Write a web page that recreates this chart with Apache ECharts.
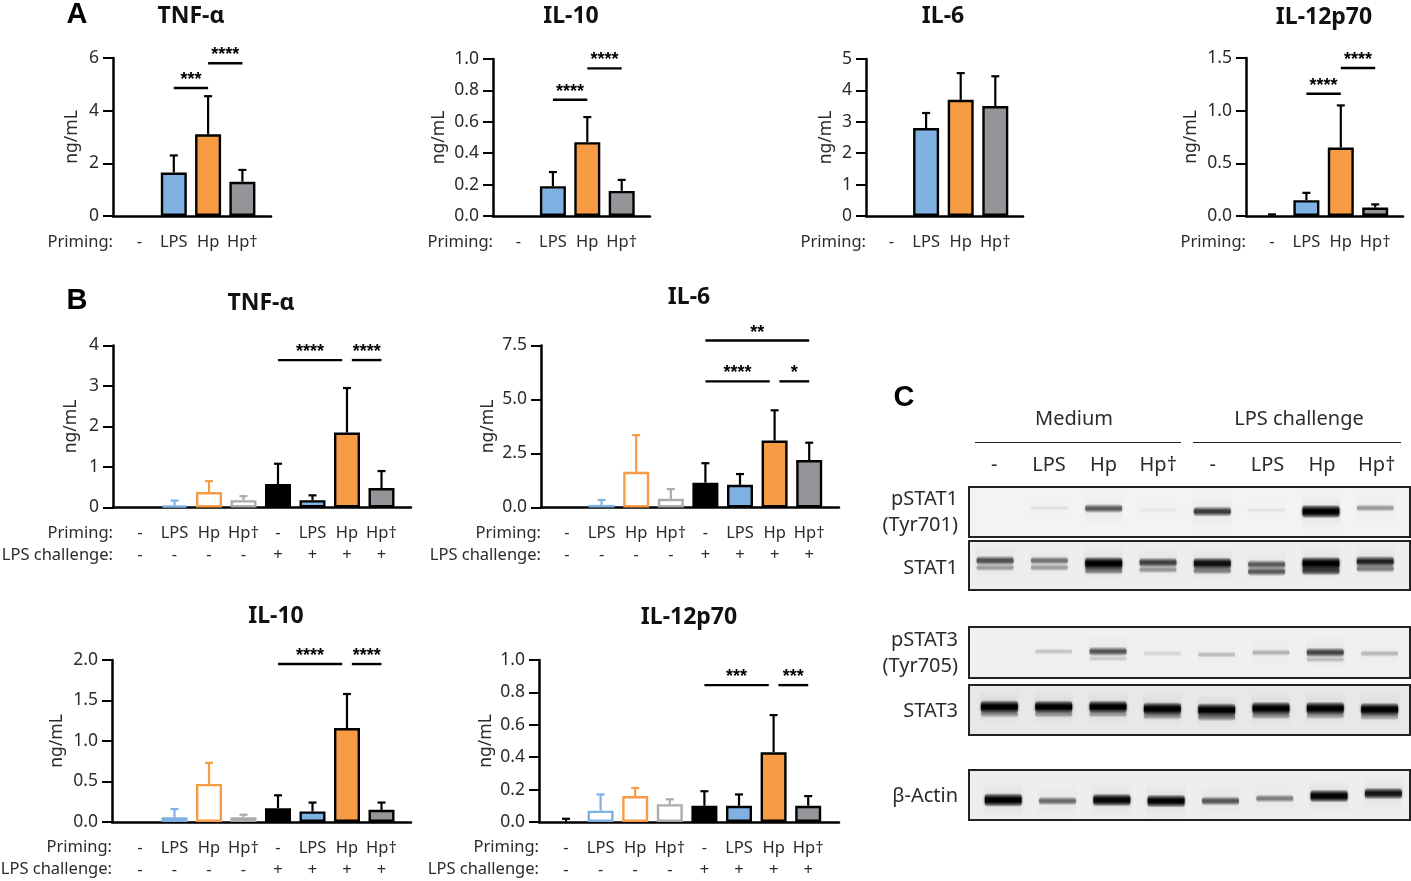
<!DOCTYPE html>
<html>
<head>
<meta charset="utf-8">
<script src="https://cdn.jsdelivr.net/npm/echarts@6/dist/echarts.min.js"></script>
<style>
html, body { margin: 0; padding: 0; background: #fff; }
#chart { width: 1411px; height: 881px; }
</style>
</head>
<body>
<div id="chart"></div>
<script>
var priming4 = ['-', 'LPS', 'Hp', 'Hp†'];
var priming8 = ['-', 'LPS', 'Hp', 'Hp†', '-', 'LPS', 'Hp', 'Hp†'];
var challenge8 = ['-', '-', '-', '-', '+', '+', '+', '+'];

// panel A: mean and top of the error bar
var aTnfMean = [0, 1.65, 3.1, 1.3];
var aTnfErr = [0, 2.3, 4.55, 1.75];
var aIl10Mean = [0, 0.19, 0.47, 0.16];
var aIl10Err = [0, 0.28, 0.63, 0.23];
var aIl6Mean = [0, 2.8, 3.7, 3.5];
var aIl6Err = [0, 3.28, 4.55, 4.45];
var aIl12Mean = [0, 0.15, 0.65, 0.08];
var aIl12Err = [0.015, 0.22, 1.05, 0.11];

// panel B
var bTnfMean = [0, 0.05, 0.38, 0.18, 0.58, 0.18, 1.85, 0.48];
var bTnfErr = [0, 0.17, 0.65, 0.28, 1.08, 0.3, 2.95, 0.9];
var bIl6Mean = [0, 0.12, 1.65, 0.4, 1.15, 1.05, 3.1, 2.2];
var bIl6Err = [0, 0.35, 3.35, 0.85, 2.05, 1.55, 4.5, 3.0];
var bIl10Mean = [0, 0.06, 0.47, 0.06, 0.17, 0.13, 1.16, 0.15];
var bIl10Err = [0, 0.16, 0.73, 0.09, 0.33, 0.24, 1.58, 0.24];
var bIl12Mean = [0, 0.07, 0.16, 0.11, 0.1, 0.1, 0.43, 0.1];
var bIl12Err = [0.02, 0.17, 0.21, 0.14, 0.19, 0.17, 0.66, 0.16];

// significance: from category, to category, height on the y axis, stars
var aTnfSig = [[1, 2, 4.86, '***'], [2, 3, 5.8, '****']];
var aIl10Sig = [[1, 2, 0.74, '****'], [2, 3, 0.94, '****']];
var aIl12Sig = [[1, 2, 1.16, '****'], [2, 3, 1.405, '****']];
var bTnfSig = [[4, 5.86, 3.64, '****'], [6.14, 7, 3.64, '****']];
var bIl6Sig = [[4, 5.86, 5.84, '****'], [6.14, 7, 5.84, '*'], [4, 7, 7.73, '**']];
var bIl10Sig = [[4, 5.86, 1.95, '****'], [6.14, 7, 1.95, '****']];
var bIl12Sig = [[4, 5.86, 0.845, '***'], [6.14, 7, 0.845, '***']];

// western blot: band strength 0-1 per lane, height of the band inside its box 0-1
var laneNames = ['-', 'LPS', 'Hp', 'Hp†', '-', 'LPS', 'Hp', 'Hp†'];
var pstat1Band = [0, 0.07, 0.5, 0.04, 0.62, 0.06, 1, 0.3];
var pstat1Y = [0.44, 0.42, 0.43, 0.46, 0.49, 0.46, 0.49, 0.42];
var pstat1Low = [0, 0, 0, 0, 0, 0, 0, 0];
var stat1Band = [0.55, 0.42, 1, 0.6, 0.85, 0.5, 1, 0.72];
var stat1Y = [0.4, 0.4, 0.46, 0.44, 0.46, 0.48, 0.46, 0.42];
var stat1Low = [0.28, 0.28, 0.4, 0.3, 0.38, 0.5, 0.6, 0.38];
var pstat3Band = [0, 0.15, 0.52, 0.1, 0.18, 0.22, 0.58, 0.2];
var pstat3Y = [0.5, 0.48, 0.48, 0.52, 0.54, 0.5, 0.5, 0.52];
var pstat3Low = [0, 0, 0.12, 0, 0, 0, 0.18, 0];
var stat3Band = [1, 0.95, 0.95, 1, 1, 1, 1, 1];
var stat3Y = [0.44, 0.44, 0.44, 0.48, 0.5, 0.47, 0.47, 0.49];
var stat3Low = [0.3, 0.3, 0.28, 0.3, 0.38, 0.32, 0.28, 0.28];
var actinBand = [1, 0.45, 0.92, 0.92, 0.52, 0.38, 0.92, 0.8];
var actinY = [0.6, 0.62, 0.6, 0.62, 0.62, 0.57, 0.52, 0.47];
var actinLow = [0, 0, 0, 0, 0, 0, 0, 0];

var blue = '#7fb2e3', orange = '#f79c45', grey = '#939598';
var openGrey = '#a9abae';
var fillsA = [ '#000', blue, orange, grey ];
var fillsB = [ '#fff', '#fff', '#fff', '#fff', '#000', blue, orange, grey ];
var edgesB = [ '#000', blue, orange, openGrey, '#000', '#000', '#000', '#000' ];
var edgesA = [ '#000', '#000', '#000', '#000' ];

var font = '"Noto Sans", sans-serif';
var ink = '#2b2b2b';

var charts = [
    { title: 'TNF-α', tx: 191, ty: 15, axisX: 113, right: 271, top: 58, y0: 216, c0: 139.5, step: 34.3, max: 6, interval: 2, dec: 0, gap: 31.5, mean: aTnfMean, err: aTnfErr, sig: aTnfSig },
    { title: 'IL-10', tx: 571, ty: 15, axisX: 493, right: 650, top: 59, y0: 216, c0: 518.5, step: 34.4, max: 1, interval: 0.2, dec: 1, gap: 44.5, mean: aIl10Mean, err: aIl10Err, sig: aIl10Sig },
    { title: 'IL-6', tx: 943, ty: 15, axisX: 866, right: 1023, top: 59, y0: 216, c0: 891.5, step: 34.6, max: 5, interval: 1, dec: 0, gap: 30.5, mean: aIl6Mean, err: aIl6Err, sig: [] },
    { title: 'IL-12p70', tx: 1324, ty: 16, axisX: 1246, right: 1403, top: 58, y0: 216, c0: 1272, step: 34.4, max: 1.5, interval: 0.5, dec: 1, gap: 45.5, mean: aIl12Mean, err: aIl12Err, sig: aIl12Sig },
    { title: 'TNF-α', tx: 261, ty: 302, axisX: 113, right: 411, top: 345.5, y0: 507.5, c0: 140, step: 34.5, max: 4, interval: 1, dec: 0, gap: 32.5, mean: bTnfMean, err: bTnfErr, sig: bTnfSig },
    { title: 'IL-6', tx: 689, ty: 296, axisX: 541, right: 839, top: 345.5, y0: 507.5, c0: 567, step: 34.6, max: 7.5, interval: 2.5, dec: 1, gap: 43.5, mean: bIl6Mean, err: bIl6Err, sig: bIl6Sig },
    { title: 'IL-10', tx: 276, ty: 615, axisX: 112, right: 411, top: 660, y0: 822, c0: 140, step: 34.5, max: 2, interval: 0.5, dec: 1, gap: 45.5, mean: bIl10Mean, err: bIl10Err, sig: bIl10Sig },
    { title: 'IL-12p70', tx: 689, ty: 616, axisX: 539, right: 839, top: 660, y0: 822, c0: 566, step: 34.6, max: 1, interval: 0.2, dec: 1, gap: 43.5, mean: bIl12Mean, err: bIl12Err, sig: bIl12Sig }
];

var blots = [
    { name: 'pSTAT1\n(Tyr701)', labelY: 512.5, top: 487, bottom: 537, bg: '#f3f3f3', shift: 0, band: pstat1Band, y: pstat1Y, low: pstat1Low },
    { name: 'STAT1', labelY: 568, top: 541, bottom: 590, bg: '#eeeeee', shift: 0, band: stat1Band, y: stat1Y, low: stat1Low },
    { name: 'pSTAT3\n(Tyr705)', labelY: 653, top: 627, bottom: 678, bg: '#f0f0f0', shift: 0.08, band: pstat3Band, y: pstat3Y, low: pstat3Low },
    { name: 'STAT3', labelY: 711.5, top: 685, bottom: 735, bg: '#e8e8e8', shift: 0.08, band: stat3Band, y: stat3Y, low: stat3Low },
    { name: 'β-Actin', labelY: 796.5, top: 770, bottom: 820, bg: '#eeeeee', shift: 0.15, band: actinBand, y: actinY, low: actinLow }
];

var grids = [], xAxes = [], yAxes = [], series = [], titles = [], graphics = [];

function rowHeader(text, x, y) {
    graphics.push({ type: 'text', style: { x: x, y: y, text: text, fill: ink, font: '16.5px ' + font, textAlign: 'right', textVerticalAlign: 'middle' } });
}

function addChart(c) {
    var two = c.mean.length == 8;
    var frame = grids.length;
    // frame grid holds the axis lines, data grid holds the bars
    grids.push({ left: c.axisX, top: c.top, width: c.right - c.axisX, height: c.y0 - c.top });
    xAxes.push({ gridIndex: frame, type: 'value', min: 0, max: 1, axisLine: { show: true, lineStyle: { color: '#000', width: 2.5 } }, axisTick: { show: false }, axisLabel: { show: false }, splitLine: { show: false } });
    yAxes.push({
        gridIndex: frame, type: 'value', min: 0, max: c.max, interval: c.interval,
        name: 'ng/mL', nameLocation: 'middle', nameGap: c.gap,
        nameTextStyle: { color: ink, fontFamily: font, fontSize: 17.5 },
        axisLine: { show: true, lineStyle: { color: '#000', width: 2.5 } },
        axisTick: { show: true, length: 10, lineStyle: { color: '#000', width: 2 } },
        axisLabel: { color: ink, fontFamily: font, fontSize: 17.5, margin: 14, formatter: function (v) { return v.toFixed(c.dec); } },
        splitLine: { show: false }
    });

    var di = grids.length;
    var labels = two ? priming8.map(function (p, i) { return p + '\n' + challenge8[i]; }) : priming4;
    grids.push({ left: c.c0 - c.step / 2, top: c.top, width: c.step * c.mean.length, height: c.y0 - c.top });
    xAxes.push({
        gridIndex: di, type: 'category', data: labels,
        axisLine: { show: false }, axisTick: { show: false },
        axisLabel: { color: ink, fontFamily: font, fontSize: 16.5, lineHeight: 22, margin: 15, interval: 0, hideOverlap: false }
    });
    yAxes.push({ gridIndex: di, type: 'value', min: 0, max: c.max, show: false, splitLine: { show: false } });

    var fills = two ? fillsB : fillsA;
    var edges = two ? edgesB : edgesA;
    series.push({
        type: 'bar', xAxisIndex: di, yAxisIndex: di, barWidth: 26, animation: false, silent: true,
        data: c.mean.map(function (v, i) {
            return { value: v, itemStyle: { color: fills[i], borderColor: edges[i], borderWidth: v == 0 ? 0 : 2.4 } };
        })
    });
    series.push({
        type: 'custom', xAxisIndex: di, yAxisIndex: di, animation: false, silent: true, z: 1,
        data: c.err.map(function (v, i) { return [i, v, c.mean[i]]; }),
        renderItem: function (params, api) {
            if (api.value(1) == 0) return;
            var a = api.coord([api.value(0), api.value(2)]);
            var b = api.coord([api.value(0), api.value(1)]);
            var st = { stroke: edges[api.value(0)], lineWidth: 2.2 };
            return { type: 'group', children: [
                { type: 'line', shape: { x1: a[0], y1: a[1], x2: b[0], y2: b[1] }, style: st },
                { type: 'line', shape: { x1: b[0] - 4, y1: b[1], x2: b[0] + 4, y2: b[1] }, style: st }
            ] };
        }
    });
    if (c.sig.length) series.push({
        type: 'custom', xAxisIndex: di, yAxisIndex: di, animation: false, silent: true, z: 3,
        data: c.sig.map(function (s) { return [Math.round(s[0]), s[2]]; }),
        renderItem: function (params, api) {
            var s = c.sig[params.dataIndex];
            // the category scale rounds, so add the part between two bars by hand
            var from = Math.floor(s[0]), to = Math.floor(s[1]);
            var a = api.coord([from, s[2]]);
            var b = api.coord([to, s[2]]);
            var x1 = a[0] + (s[0] - from) * c.step, x2 = b[0] + (s[1] - to) * c.step;
            return { type: 'group', children: [
                { type: 'line', shape: { x1: x1, y1: a[1], x2: x2, y2: a[1] }, style: { stroke: '#000', lineWidth: 2.4 } },
                { type: 'text', style: { x: (x1 + x2) / 2, y: a[1] - 8, text: s[3], fill: '#000', font: 'bold 18px "Liberation Sans", sans-serif', textAlign: 'center', textVerticalAlign: 'middle' } }
            ] };
        }
    });

    titles.push({ text: c.title, left: c.tx, top: c.ty - 10, padding: 0, textAlign: 'center', textStyle: { color: '#111', fontFamily: font, fontSize: 23, fontWeight: 'bold' } });
    var ry = c.y0 + 25.5;
    rowHeader('Priming:', c.axisX, ry + (two ? 0 : 1));
    if (two) rowHeader('LPS challenge:', c.axisX, ry + 22);
}

function addBlot(b) {
    var g = grids.length;
    grids.push({ show: true, left: 969, top: b.top, width: 441, height: b.bottom - b.top, backgroundColor: b.bg, borderColor: '#222', borderWidth: 2 });
    xAxes.push({ gridIndex: g, type: 'value', min: -0.48, max: 7.64, show: false, splitLine: { show: false } });
    yAxes.push({ gridIndex: g, type: 'value', min: 0, max: 1, inverse: true, show: false, splitLine: { show: false } });
    series.push({
        type: 'custom', xAxisIndex: g, yAxisIndex: g, animation: false, silent: true, clip: true,
        data: b.band.map(function (v, i) { return [i + b.shift, b.y[i], v, b.low[i]]; }),
        renderItem: function (params, api) {
            var p = api.coord([api.value(0), api.value(1)]);
            var w = api.size([0.68, 0])[0];
            var kids = [];
            function band(k, yy) {
                if (k <= 0) return;
                var core = Math.min(1, k * 1.05);
                var h = 5 + 9 * k;
                kids.push({
                    type: 'rect', shape: { x: p[0] - w / 2, y: yy - h / 2, width: w, height: h, r: 4 },
                    style: {
                        fill: new echarts.graphic.LinearGradient(0, 0, 0, 1, [
                            { offset: 0, color: 'rgba(0,0,0,0)' },
                            { offset: 0.4, color: 'rgba(0,0,0,' + core + ')' },
                            { offset: 0.6, color: 'rgba(0,0,0,' + core + ')' },
                            { offset: 1, color: 'rgba(0,0,0,0)' }
                        ]),
                        shadowBlur: 3, shadowColor: 'rgba(0,0,0,' + core * 0.6 + ')'
                    }
                });
            }
            // faint smear round each lane
            var k = api.value(2);
            if (k > 0) kids.push({
                type: 'rect', shape: { x: p[0] - w / 2 - 1, y: p[1] - 18, width: w + 2, height: 36 },
                style: { fill: new echarts.graphic.LinearGradient(0, 0, 0, 1, [
                    { offset: 0, color: 'rgba(0,0,0,0)' },
                    { offset: 0.5, color: 'rgba(0,0,0,' + k * 0.07 + ')' },
                    { offset: 1, color: 'rgba(0,0,0,0)' }
                ]) }
            });
            band(api.value(3), p[1] + 7);
            band(k, p[1]);
            return { type: 'group', children: kids };
        }
    });
    graphics.push({ type: 'text', style: { x: 958, y: b.labelY, text: b.name, fill: ink, font: '20px ' + font, lineHeight: 26, textAlign: 'right', textVerticalAlign: 'middle' } });
}

charts.forEach(addChart);
blots.forEach(addBlot);

// lane names above the first blot
var laneGrid = grids.length;
grids.push({ left: 967, top: 487, width: 437, height: 50 });
xAxes.push({ gridIndex: laneGrid, type: 'category', position: 'top', data: laneNames, axisLine: { show: false }, axisTick: { show: false }, axisLabel: { color: ink, fontFamily: font, fontSize: 20, margin: 12, interval: 0, hideOverlap: false } });
yAxes.push({ gridIndex: laneGrid, type: 'value', show: false, splitLine: { show: false } });

[['A', 77, 14], ['B', 77, 300], ['C', 904, 397]].forEach(function (p) {
    titles.push({ text: p[0], left: p[1], top: p[2] - 14, padding: 0, textAlign: 'center', textStyle: { color: '#000', fontFamily: '"Liberation Sans", sans-serif', fontSize: 29, fontWeight: 'bold' } });
});

[['Medium', 1074], ['LPS challenge', 1299]].forEach(function (p) {
    graphics.push({ type: 'text', style: { x: p[1], y: 419, text: p[0], fill: ink, font: '20px ' + font, textAlign: 'center', textVerticalAlign: 'middle' } });
});
[[975, 1181], [1193, 1401]].forEach(function (p) {
    graphics.push({ type: 'line', shape: { x1: p[0], y1: 442.5, x2: p[1], y2: 442.5 }, style: { stroke: '#222', lineWidth: 1.2 } });
});

var mychart = echarts.init(document.getElementById('chart'));
mychart.setOption({
    backgroundColor: '#fff',
    animation: false,
    title: titles,
    grid: grids,
    xAxis: xAxes,
    yAxis: yAxes,
    series: series,
    graphic: graphics
});
</script>
</body>
</html>
